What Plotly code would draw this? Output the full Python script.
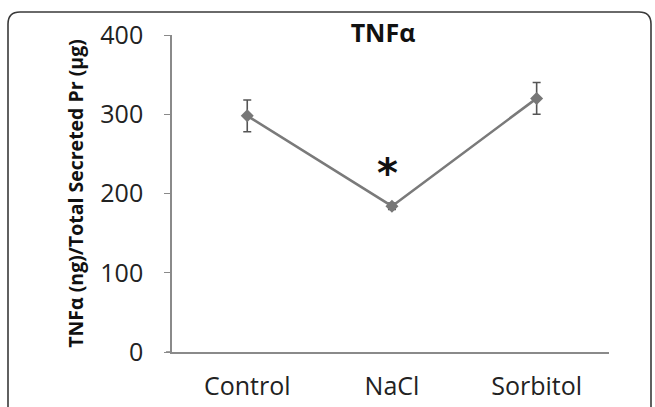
import plotly.graph_objects as go

categories = ["Control", "NaCl", "Sorbitol"]
values = [298, 184, 320]
errors = [20, 4, 20]
y_ticks = [0, 100, 200, 300, 400]
title_text = "TNFα"
y_title = "TNFα (ng)/Total Secreted Pr (µg)"
sig_label = "*"
sig_category = "NaCl"
sig_value = 232

FONT = "Open Sans, Liberation Sans, sans-serif"

fig = go.Figure()
fig.add_trace(go.Scatter(
    x=categories, y=values,
    mode="lines+markers",
    line=dict(color="#7a7a7a", width=2.6),
    marker=dict(symbol="diamond", size=10, color="#777777"),
    error_y=dict(type="data", array=errors, visible=True,
                 color="#555555", thickness=1.6, width=4),
    showlegend=False,
))

fig.add_annotation(
    x=sig_category, y=sig_value, xref="x", yref="y",
    text="<b>" + sig_label + "</b>", showarrow=False,
    font=dict(family="DejaVu Sans, sans-serif", size=40, color="#111111"),
    yanchor="middle", yshift=-5, xshift=-4,
)

# plot area in px: x 172..609, y 35..352
W, H = 655, 407
L, R, T, B = 172, 609, 35, 352
pw, ph = R - L, B - T

def px(x):
    return (x - L) / pw

def py(y):
    return (B - y) / ph

# rounded border box
r = 12
x0, x1, y0, y1 = 8, 651, 12, 412
path = (f"M {px(x0)},{py(y1)} L {px(x0)},{py(y0 + r)} "
        f"Q {px(x0)},{py(y0)} {px(x0 + r)},{py(y0)} "
        f"L {px(x1 - r)},{py(y0)} Q {px(x1)},{py(y0)} {px(x1)},{py(y0 + r)} "
        f"L {px(x1)},{py(y1)}")
fig.add_shape(type="path", xref="paper", yref="paper", path=path,
              line=dict(color="#3a3a3a", width=1.6))

# small extension of x axis line to the left (Excel style)
fig.add_shape(type="line", xref="paper", yref="paper",
              x0=px(166), x1=0, y0=0, y1=0,
              line=dict(color="#8a8a8a", width=1.6))

fig.update_layout(
    width=W, height=H,
    margin=dict(l=L, r=W - R, t=T, b=H - B, autoexpand=False),
    paper_bgcolor="white", plot_bgcolor="white",
    title=dict(text="<b>" + title_text + "</b>", xref="container",
               x=383 / W, xanchor="center",
               y=1 - 33 / H, yanchor="middle",
               font=dict(family=FONT, size=25, color="#111111")),
    xaxis=dict(
        type="category", range=[-0.52, 2.5], automargin=False,
        showline=True, linecolor="#8a8a8a", linewidth=1.6,
        ticks="", showgrid=False, zeroline=False,
        tickfont=dict(family=FONT, size=25, color="#222222"),
        ticklabelstandoff=11,
    ),
    yaxis=dict(
        range=[0, 400], tickvals=y_ticks, automargin=False,
        showline=True, linecolor="#8a8a8a", linewidth=1.6,
        ticks="outside", ticklen=6, tickcolor="#8a8a8a", tickwidth=1.4,
        showgrid=False, zeroline=False,
        tickfont=dict(family=FONT, size=25, color="#222222"),
        ticklabelstandoff=16,
        title=dict(text="<b>" + y_title + "</b>", standoff=11,
                   font=dict(family=FONT, size=19.5, color="#111111")),
    ),
)

fig.write_html("out.html", config={"displayModeBar": False},
               post_script="document.body.style.margin='0px';")
